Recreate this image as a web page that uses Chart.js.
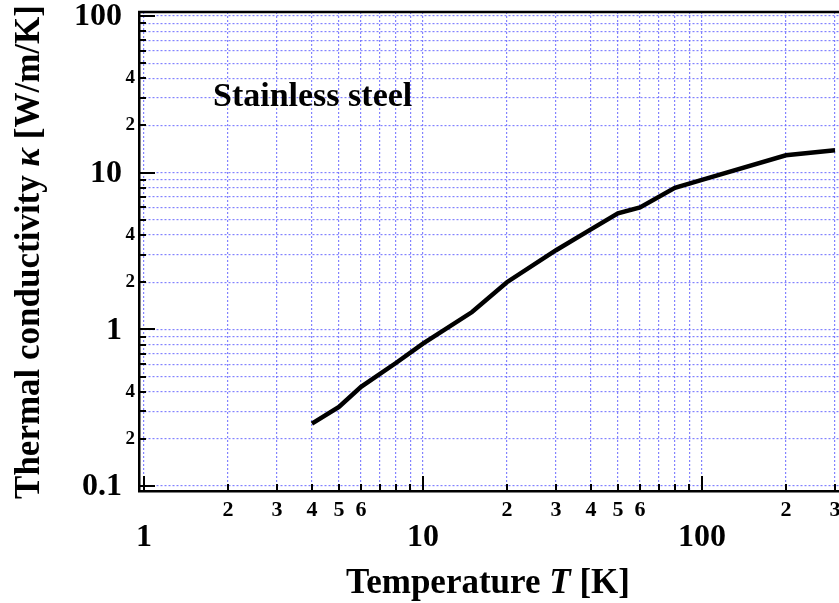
<!DOCTYPE html>
<html>
<head>
<meta charset="utf-8">
<script src="https://cdn.jsdelivr.net/npm/chart.js@4.4.0/dist/chart.umd.min.js"></script>
<style>
  html, body { margin: 0; padding: 0; background: #fff; }
  #wrap { width: 839px; height: 603px; }
</style>
</head>
<body>
<div id="wrap"><canvas id="kappaChart" width="839" height="603"></canvas></div>
<script>
// Stainless steel thermal conductivity, log-log
const temps = [4, 5, 6, 8, 10, 15, 20, 30, 40, 50, 60, 80, 100, 200, 300];
const kappa = [0.25, 0.32, 0.43, 0.61, 0.81, 1.29, 2.0, 3.2, 4.35, 5.5, 6.0, 8.0, 9.0, 12.9, 13.9];

// grid / tick positions
const xGrid = [1, 2, 3, 4, 5, 6, 7, 8, 9, 10, 20, 30, 40, 50, 60, 70, 80, 90, 100, 200, 300];
const yGrid = [0.1, 0.2, 0.3, 0.4, 0.5, 0.6, 0.7, 0.8, 0.9, 1, 2, 3, 4, 5, 6, 7, 8, 9,
               10, 20, 30, 40, 50, 60, 70, 80, 90, 100];

// tick labels
const xMajorLabels = [1, 10, 100];
const xMinorLabels = [2, 3, 4, 5, 6, 20, 30, 40, 50, 60, 200, 300];
const yMajorLabels = [0.1, 1, 10, 100];
const yMinorLabels = [0.2, 0.4, 2, 4, 20, 40];

const SERIF = '"Liberation Serif", "Times New Roman", serif';

function isDecade(v) {
    const l = Math.log10(v);
    return Math.abs(l - Math.round(l)) < 1e-9;
}

function minorText(v) {
    // 20 -> "2", 0.4 -> "4"
    return String(Math.round(v / Math.pow(10, Math.floor(Math.log10(v) + 1e-9))));
}

// draw a line of text made of parts with different fonts
function drawParts(ctx, parts, cx, baseY) {
    let total = 0;
    parts.forEach(p => { ctx.font = p.font; total += ctx.measureText(p.text).width; });
    let x = cx - total / 2;
    ctx.textAlign = 'left';
    ctx.textBaseline = 'alphabetic';
    parts.forEach(p => {
        ctx.font = p.font;
        ctx.fillText(p.text, x, baseY);
        x += ctx.measureText(p.text).width;
    });
}

const framePlugin = {
    id: 'framePlugin',
    afterDraw(chart) {
        const {ctx, chartArea: a, scales: {x, y}} = chart;
        ctx.save();
        ctx.strokeStyle = '#000';
        ctx.fillStyle = '#000';

        // top frame line
        ctx.lineWidth = 2.5;
        ctx.beginPath();
        ctx.moveTo(a.left - 1, a.top);
        ctx.lineTo(a.right, a.top);
        ctx.stroke();

        // inward ticks
        ctx.lineWidth = 2;
        ctx.beginPath();
        xGrid.forEach(v => {
            const px = Math.round(x.getPixelForValue(v));
            const len = isDecade(v) ? 15 : 7;
            ctx.moveTo(px, a.bottom);
            ctx.lineTo(px, a.bottom - len);
        });
        yGrid.forEach(v => {
            const py = Math.round(y.getPixelForValue(v));
            const len = isDecade(v) ? 16 : 7;
            ctx.moveTo(a.left, py);
            ctx.lineTo(a.left + len, py);
        });
        ctx.stroke();

        // x tick labels
        ctx.textAlign = 'center';
        ctx.textBaseline = 'middle';
        ctx.font = 'bold 22px ' + SERIF;
        xMinorLabels.forEach(v => {
            ctx.fillText(minorText(v), x.getPixelForValue(v), a.bottom + 19);
        });
        ctx.font = 'bold 32px ' + SERIF;
        xMajorLabels.forEach(v => {
            ctx.fillText(String(v), x.getPixelForValue(v), a.bottom + 47);
        });

        // y tick labels
        ctx.textAlign = 'right';
        ctx.font = 'bold 19px ' + SERIF;
        yMinorLabels.forEach(v => {
            ctx.fillText(minorText(v), a.left - 4, y.getPixelForValue(v));
        });
        ctx.font = 'bold 32px ' + SERIF;
        yMajorLabels.forEach(v => {
            ctx.fillText(String(v), a.left - 17, y.getPixelForValue(v) + 1);
        });

        // annotation
        ctx.textAlign = 'left';
        ctx.textBaseline = 'alphabetic';
        ctx.font = 'bold 34px ' + SERIF;
        ctx.fillText('Stainless steel', 213, 106);

        // axis titles
        const f = 'bold 35px ' + SERIF;
        const fi = 'italic bold 35px ' + SERIF;
        drawParts(ctx, [
            {text: 'Temperature ', font: f},
            {text: 'T', font: fi},
            {text: ' [K]', font: f}
        ], 488, 593);

        ctx.save();
        ctx.translate(39, 252);
        ctx.rotate(-Math.PI / 2);
        drawParts(ctx, [
            {text: 'Thermal conductivity ', font: f},
            {text: 'κ', font: fi},
            {text: ' [W/m/K]', font: f}
        ], 0, 0);
        ctx.restore();

        ctx.restore();
    }
};

const gridOpts = {
    color: 'rgba(100, 100, 255, 0.8)',
    lineWidth: 1.2,
    drawTicks: false
};

new Chart(document.getElementById('kappaChart'), {
    type: 'line',
    data: {
        datasets: [{
            data: temps.map((t, i) => ({x: t, y: kappa[i]})),
            borderColor: '#000',
            borderWidth: 4.5,
            pointRadius: 0,
            tension: 0,
            fill: false
        }]
    },
    options: {
        responsive: false,
        animation: false,
        devicePixelRatio: 1,
        layout: { padding: { top: 12, right: 0, left: 0, bottom: 0 } },
        plugins: {
            legend: { display: false },
            tooltip: { enabled: false }
        },
        scales: {
            x: {
                type: 'logarithmic',
                min: 0.96,
                max: 310,
                afterBuildTicks: scale => { scale.ticks = xGrid.map(v => ({value: v})); },
                afterFit: scale => { scale.height = 112; },
                grid: gridOpts,
                border: { display: true, color: '#000', width: 2.5, dash: [2, 2] },
                ticks: { display: false }
            },
            y: {
                type: 'logarithmic',
                min: 0.093,
                max: 106,
                afterBuildTicks: scale => { scale.ticks = yGrid.map(v => ({value: v})); },
                afterFit: scale => { scale.width = 139; },
                grid: gridOpts,
                border: { display: true, color: '#000', width: 2.5, dash: [2, 2] },
                ticks: { display: false }
            }
        }
    },
    plugins: [framePlugin]
});
</script>
</body>
</html>
